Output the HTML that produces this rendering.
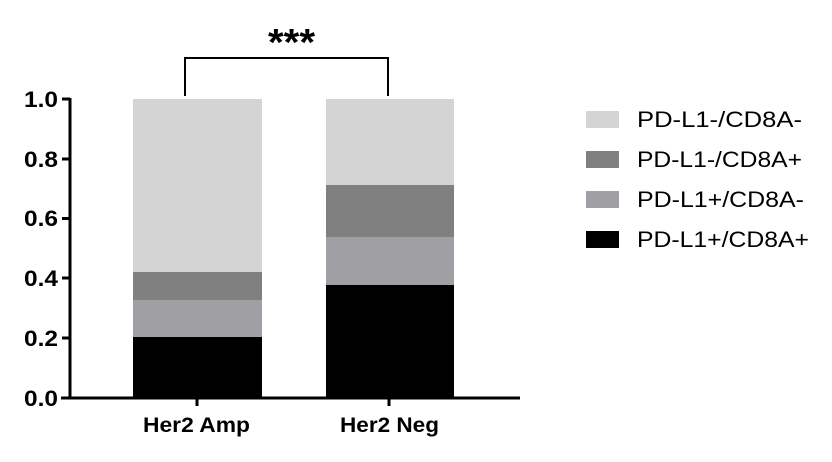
<!DOCTYPE html>
<html><head><style>body{margin:0;background:#fff}svg{display:block}</style></head><body>
<svg width="832" height="462" xmlns="http://www.w3.org/2000/svg" font-family="Liberation Sans, Arial, sans-serif">
<rect width="832" height="462" fill="#fff"/>
<rect x="133" y="99" width="129" height="173" fill="#d4d4d4"/>
<rect x="133" y="272" width="129" height="28" fill="#808080"/>
<rect x="133" y="300" width="129" height="37" fill="#a0a0a4"/>
<rect x="133" y="337" width="129" height="61" fill="#000"/>
<rect x="326" y="99" width="128" height="86" fill="#d4d4d4"/>
<rect x="326" y="185" width="128" height="52" fill="#808080"/>
<rect x="326" y="237" width="128" height="48" fill="#a0a0a4"/>
<rect x="326" y="285" width="128" height="113" fill="#000"/>
<g stroke="#000" stroke-width="3" fill="none">
<line x1="70" y1="98" x2="70" y2="399.5"/>
<line x1="61" y1="398" x2="520" y2="398"/>
<line x1="62" y1="99" x2="70" y2="99"/>
<line x1="62" y1="159" x2="70" y2="159"/>
<line x1="62" y1="218.5" x2="70" y2="218.5"/>
<line x1="62" y1="278" x2="70" y2="278"/>
<line x1="62" y1="338" x2="70" y2="338"/>
<line x1="197" y1="398" x2="197" y2="406"/>
<line x1="389" y1="398" x2="389" y2="406"/>
</g>
<path d="M185 96 V58 H388 V96" stroke="#000" stroke-width="2" fill="none"/>
<text x="268" y="55" font-size="38" font-weight="bold" textLength="47" lengthAdjust="spacingAndGlyphs">***</text>
<g font-size="22" font-weight="bold">
<text x="24" y="107" textLength="34" lengthAdjust="spacingAndGlyphs">1.0</text>
<text x="24" y="167" textLength="34" lengthAdjust="spacingAndGlyphs">0.8</text>
<text x="24" y="226" textLength="34" lengthAdjust="spacingAndGlyphs">0.6</text>
<text x="24" y="286" textLength="34" lengthAdjust="spacingAndGlyphs">0.4</text>
<text x="24" y="346" textLength="34" lengthAdjust="spacingAndGlyphs">0.2</text>
<text x="24" y="406" textLength="34" lengthAdjust="spacingAndGlyphs">0.0</text>
</g>
<g font-size="21" font-weight="bold">
<text x="143" y="432" textLength="107" lengthAdjust="spacingAndGlyphs">Her2 Amp</text>
<text x="340" y="432" textLength="99" lengthAdjust="spacingAndGlyphs">Her2 Neg</text>
</g>
<rect x="586" y="111" width="33" height="17" fill="#d4d4d4"/>
<rect x="586" y="151" width="33" height="17" fill="#808080"/>
<rect x="586" y="191" width="33" height="17" fill="#a0a0a4"/>
<rect x="586" y="231" width="33" height="17" fill="#000"/>
<g font-size="22">
<text x="637" y="127" textLength="165" lengthAdjust="spacingAndGlyphs">PD-L1-/CD8A-</text>
<text x="637" y="167" textLength="165" lengthAdjust="spacingAndGlyphs">PD-L1-/CD8A+</text>
<text x="637" y="207" textLength="167" lengthAdjust="spacingAndGlyphs">PD-L1+/CD8A-</text>
<text x="637" y="247" textLength="172" lengthAdjust="spacingAndGlyphs">PD-L1+/CD8A+</text>
</g>
</svg>
</body></html>
